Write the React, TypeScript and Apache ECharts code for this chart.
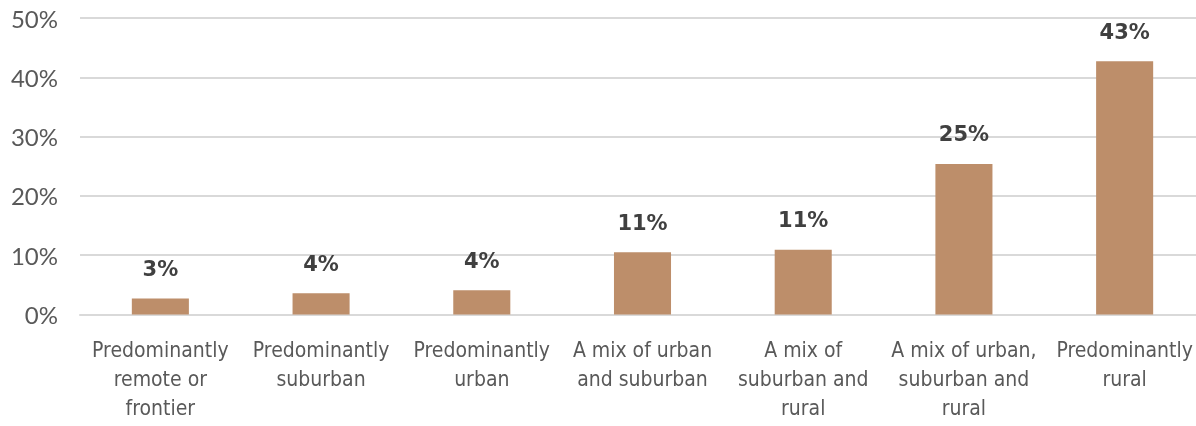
import React, { useEffect, useRef } from "react";
import * as echarts from "echarts";

const categories = [
  "Predominantly\nremote or\nfrontier",
  "Predominantly\nsuburban",
  "Predominantly\nurban",
  "A mix of urban\nand suburban",
  "A mix of\nsuburban and\nrural",
  "A mix of urban,\nsuburban and\nrural",
  "Predominantly\nrural",
];
const values = [2.7, 3.6, 4.1, 10.5, 10.9, 25.4, 42.7];
const yTicks = { min: 0, max: 50, interval: 10 };

export default function App() {
  const ref = useRef<HTMLDivElement>(null);
  useEffect(() => {
    if (!ref.current) return;
    const chart = echarts.init(ref.current, null, { renderer: "svg" });
    chart.setOption({
      animation: false,
      grid: { left: 80, top: 18, right: 5, height: 296.5 },
      xAxis: {
        type: "category",
        data: categories,
        axisLine: { show: true, lineStyle: { color: "#d9d9d9", width: 2 } },
        axisTick: { show: false },
        axisLabel: {
          interval: 0,
          margin: 21,
          color: "#595959",
          fontFamily: "Liberation Sans Narrow, DejaVu Sans Condensed, sans-serif",
          fontSize: 21,
          lineHeight: 29,
        },
      },
      yAxis: {
        type: "value",
        min: yTicks.min,
        max: yTicks.max,
        interval: yTicks.interval,
        axisLine: { show: false },
        axisTick: { show: false },
        splitLine: { lineStyle: { color: "#d9d9d9", width: 2 } },
        axisLabel: {
          formatter: (v: number) => v + "%",
          margin: 22,
          color: "#595959",
          fontFamily: "Lato, sans-serif",
          fontWeight: "normal",
          fontSize: 24,
        },
      },
      series: [
        {
          type: "bar",
          data: values,
          barWidth: "35.5%",
          itemStyle: { color: "#bd8e6a" },
          label: {
            show: true,
            position: "top",
            distance: 19,
            formatter: (p: any) => Math.round(p.value) + "%",
            color: "#404040",
            fontFamily: "DejaVu Sans, sans-serif",
            fontWeight: "bold",
            fontSize: 21,
          },
        },
      ],
    });
    return () => chart.dispose();
  }, []);
  return (
    <div
      ref={ref}
      style={{ position: "fixed", left: 0, top: 0, width: 1210, height: 426 }}
    />
  );
}
